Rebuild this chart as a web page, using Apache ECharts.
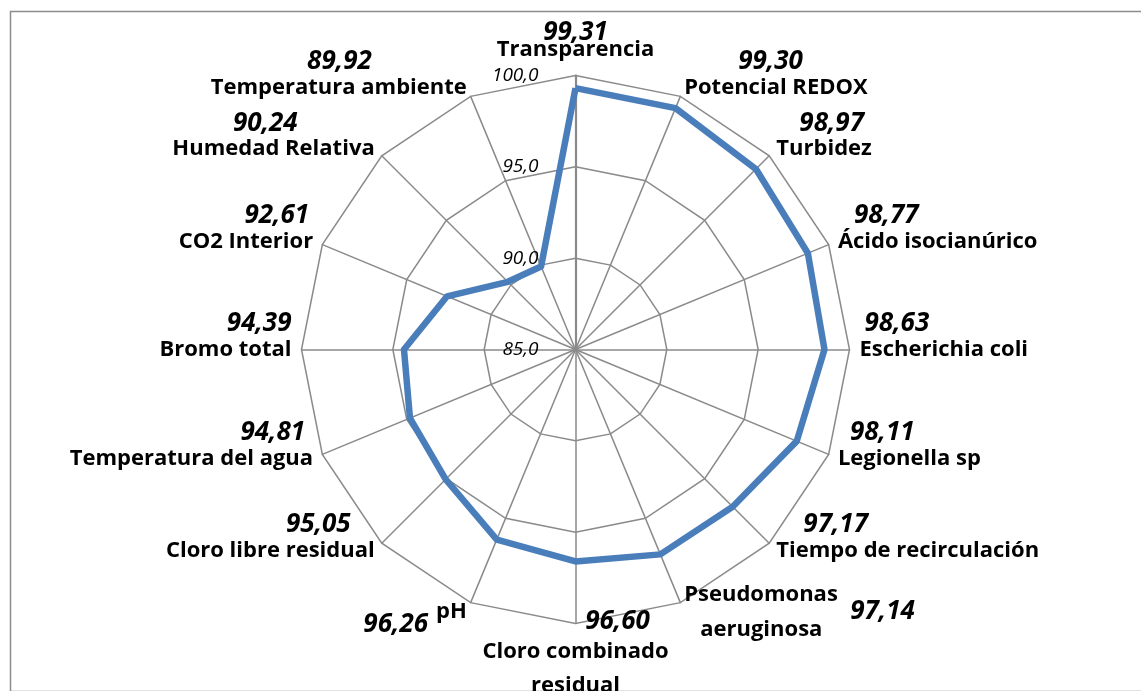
<!DOCTYPE html>
<html>
<head>
<meta charset="utf-8">
<script src="https://cdn.jsdelivr.net/npm/echarts@6/dist/echarts.min.js"></script>
<style>
html,body{margin:0;padding:0;background:#fff;}
#chart{width:1141px;height:691px;}
</style>
</head>
<body>
<div id="chart"></div>
<script>
// ---- data (clockwise from the top) ----
const categories = [
  'Transparencia', 'Potencial REDOX', 'Turbidez', 'Ácido isocianúrico',
  'Escherichia coli', 'Legionella sp', 'Tiempo de recirculación',
  'Pseudomonas aeruginosa', 'Cloro combinado residual', 'pH',
  'Cloro libre residual', 'Temperatura del agua', 'Bromo total',
  'CO2 Interior', 'Humedad Relativa', 'Temperatura ambiente'
];
const values = [
  99.31, 99.30, 98.97, 98.77, 98.63, 98.11, 97.17, 97.14,
  96.60, 96.26, 95.05, 94.81, 94.39, 92.61, 90.24, 89.92
];
const axisMin = 85;
const axisMax = 100;
const axisStep = 5;
const tickLabels = ['85,0', '90,0', '95,0', '100,0'];

// ---- label layout (value-label placement relative to each category name) ----
const labelLayout = [
  {kind: 'top'},
  {kind: 'right', pad: 54},
  {kind: 'right', pad: 23},
  {kind: 'right', pad: 16},
  {kind: 'right', pad: 5},
  {kind: 'right', pad: 12},
  {kind: 'right', pad: 27},
  {kind: 'pseudo', pad: 166, pad2: 16},
  {kind: 'bottom', pad: 84},
  {kind: 'ph', pad: 8},
  {kind: 'left', pad: 24},
  {kind: 'left', pad: 8},
  {kind: 'left', pad: 0},
  {kind: 'left', pad: 4},
  {kind: 'left', pad: 77},
  {kind: 'left', pad: 95}
];

const FONT = '"Open Sans", "Noto Sans", sans-serif';
const NAME_SIZE = 22;
const VALUE_SIZE = 26;
const fmtVal = v => v.toFixed(2).replace('.', ',');

// ECharts lays radar indicators counter-clockwise; reorder so they read clockwise.
const order = [0].concat(categories.map((_, i) => i).slice(1).reverse());

const nameBase = {fontFamily: FONT, fontSize: NAME_SIZE, fontWeight: 'bold', color: '#000'};
const rich = {
  n:  Object.assign({}, nameBase, {lineHeight: 26}),
  nT: Object.assign({}, nameBase, {lineHeight: 32}),
  n2: Object.assign({}, nameBase, {lineHeight: 34, align: 'left'}),
  n3: Object.assign({}, nameBase, {lineHeight: 34, align: 'center'}),
  nph: Object.assign({}, nameBase, {lineHeight: 26, verticalAlign: 'middle'})
};
const vBase = {fontFamily: FONT, fontSize: VALUE_SIZE, fontWeight: 'bold', fontStyle: 'italic', color: '#000'};
labelLayout.forEach((L, i) => {
  const s = Object.assign({}, vBase);
  if (L.kind === 'top') { s.lineHeight = 1; s.verticalAlign = 'middle'; s.align = 'center'; }
  else if (L.kind === 'right') { s.lineHeight = 1; s.verticalAlign = 'bottom'; s.align = 'left'; s.padding = [0, 0, 0, L.pad]; }
  else if (L.kind === 'left') { s.lineHeight = 1; s.verticalAlign = 'bottom'; s.align = 'right'; s.padding = [0, L.pad, 0, 0]; }
  else if (L.kind === 'bottom') { s.lineHeight = 1; s.verticalAlign = 'bottom'; s.align = 'center'; s.padding = [0, 0, 0, L.pad]; }
  else if (L.kind === 'pseudo') { s.lineHeight = 1; s.verticalAlign = 'middle'; s.align = 'left'; s.padding = [0, 0, 0, L.pad]; }
  else if (L.kind === 'ph') { s.lineHeight = 52; s.verticalAlign = 'bottom'; s.padding = [0, L.pad, 0, 0]; }
  rich['v' + i] = s;
});
rich.p2 = Object.assign({}, rich.n2, {padding: [0, 0, 0, labelLayout[7].pad2]});

function nameFormatter(name) {
  const i = categories.indexOf(name);
  const L = labelLayout[i];
  const v = '{v' + i + '|' + fmtVal(values[i]) + '}';
  switch (L.kind) {
    case 'top': return v + '\n{nT|' + name + '}';
    case 'pseudo': {
      const parts = name.split(' ');
      return '{n2|' + parts[0] + '}\n' + v + '\n{p2|' + parts.slice(1).join(' ') + '}';
    }
    case 'bottom': {
      const parts = name.split(' ');
      return v + '\n{n3|' + parts.slice(0, 2).join(' ') + '}\n{n3|' + parts.slice(2).join(' ') + '}';
    }
    case 'ph': return v + '{nph|' + name + '}';
    default: return v + '\n{n|' + name + '}';
  }
}

const indicators = order.map((idx, k) => {
  const ind = {name: categories[idx], min: axisMin, max: axisMax};
  if (k === 0) {
    ind.axisLine = {lineStyle: {color: '#8a8a8a', width: 2.2}};
    ind.axisLabel = {
      show: true,
      margin: 37,
      fontFamily: FONT,
      fontSize: 19,
      fontStyle: 'italic',
      color: '#000',
      formatter: v => tickLabels[Math.round((v - axisMin) / axisStep)] || ''
    };
  }
  return ind;
});

const chart = echarts.init(document.getElementById('chart'), null, {renderer: 'canvas'});
chart.setOption({
  animation: false,
  backgroundColor: '#fff',
  graphic: [{
    type: 'rect', left: 8, top: 9, silent: true, z: -10,
    shape: {width: 1200, height: 680},
    style: {fill: 'none', stroke: '#8c8c8c', lineWidth: 1.5}
  }],
  radar: {
    center: [575.5, 349.5],
    radius: 274,
    startAngle: 90,
    shape: 'polygon',
    splitNumber: (axisMax - axisMin) / axisStep,
    indicator: indicators,
    axisNameGap: 10,
    axisName: {
      color: '#000',
      fontFamily: FONT,
      fontSize: NAME_SIZE,
      fontWeight: 'bold',
      formatter: nameFormatter,
      rich: rich
    },
    axisLine: {lineStyle: {color: '#8a8a8a', width: 1.5}},
    splitLine: {lineStyle: {color: '#8a8a8a', width: 1.5}},
    splitArea: {show: false},
    axisTick: {show: false},
    axisLabel: {show: false}
  },
  series: [{
    type: 'radar',
    symbol: 'none',
    silent: true,
    lineStyle: {color: '#4A7EBB', width: 6.5},
    emphasis: {disabled: true},
    data: [{value: order.map(i => values[i]), name: 'Valor'}]
  }]
});
</script>
</body>
</html>
